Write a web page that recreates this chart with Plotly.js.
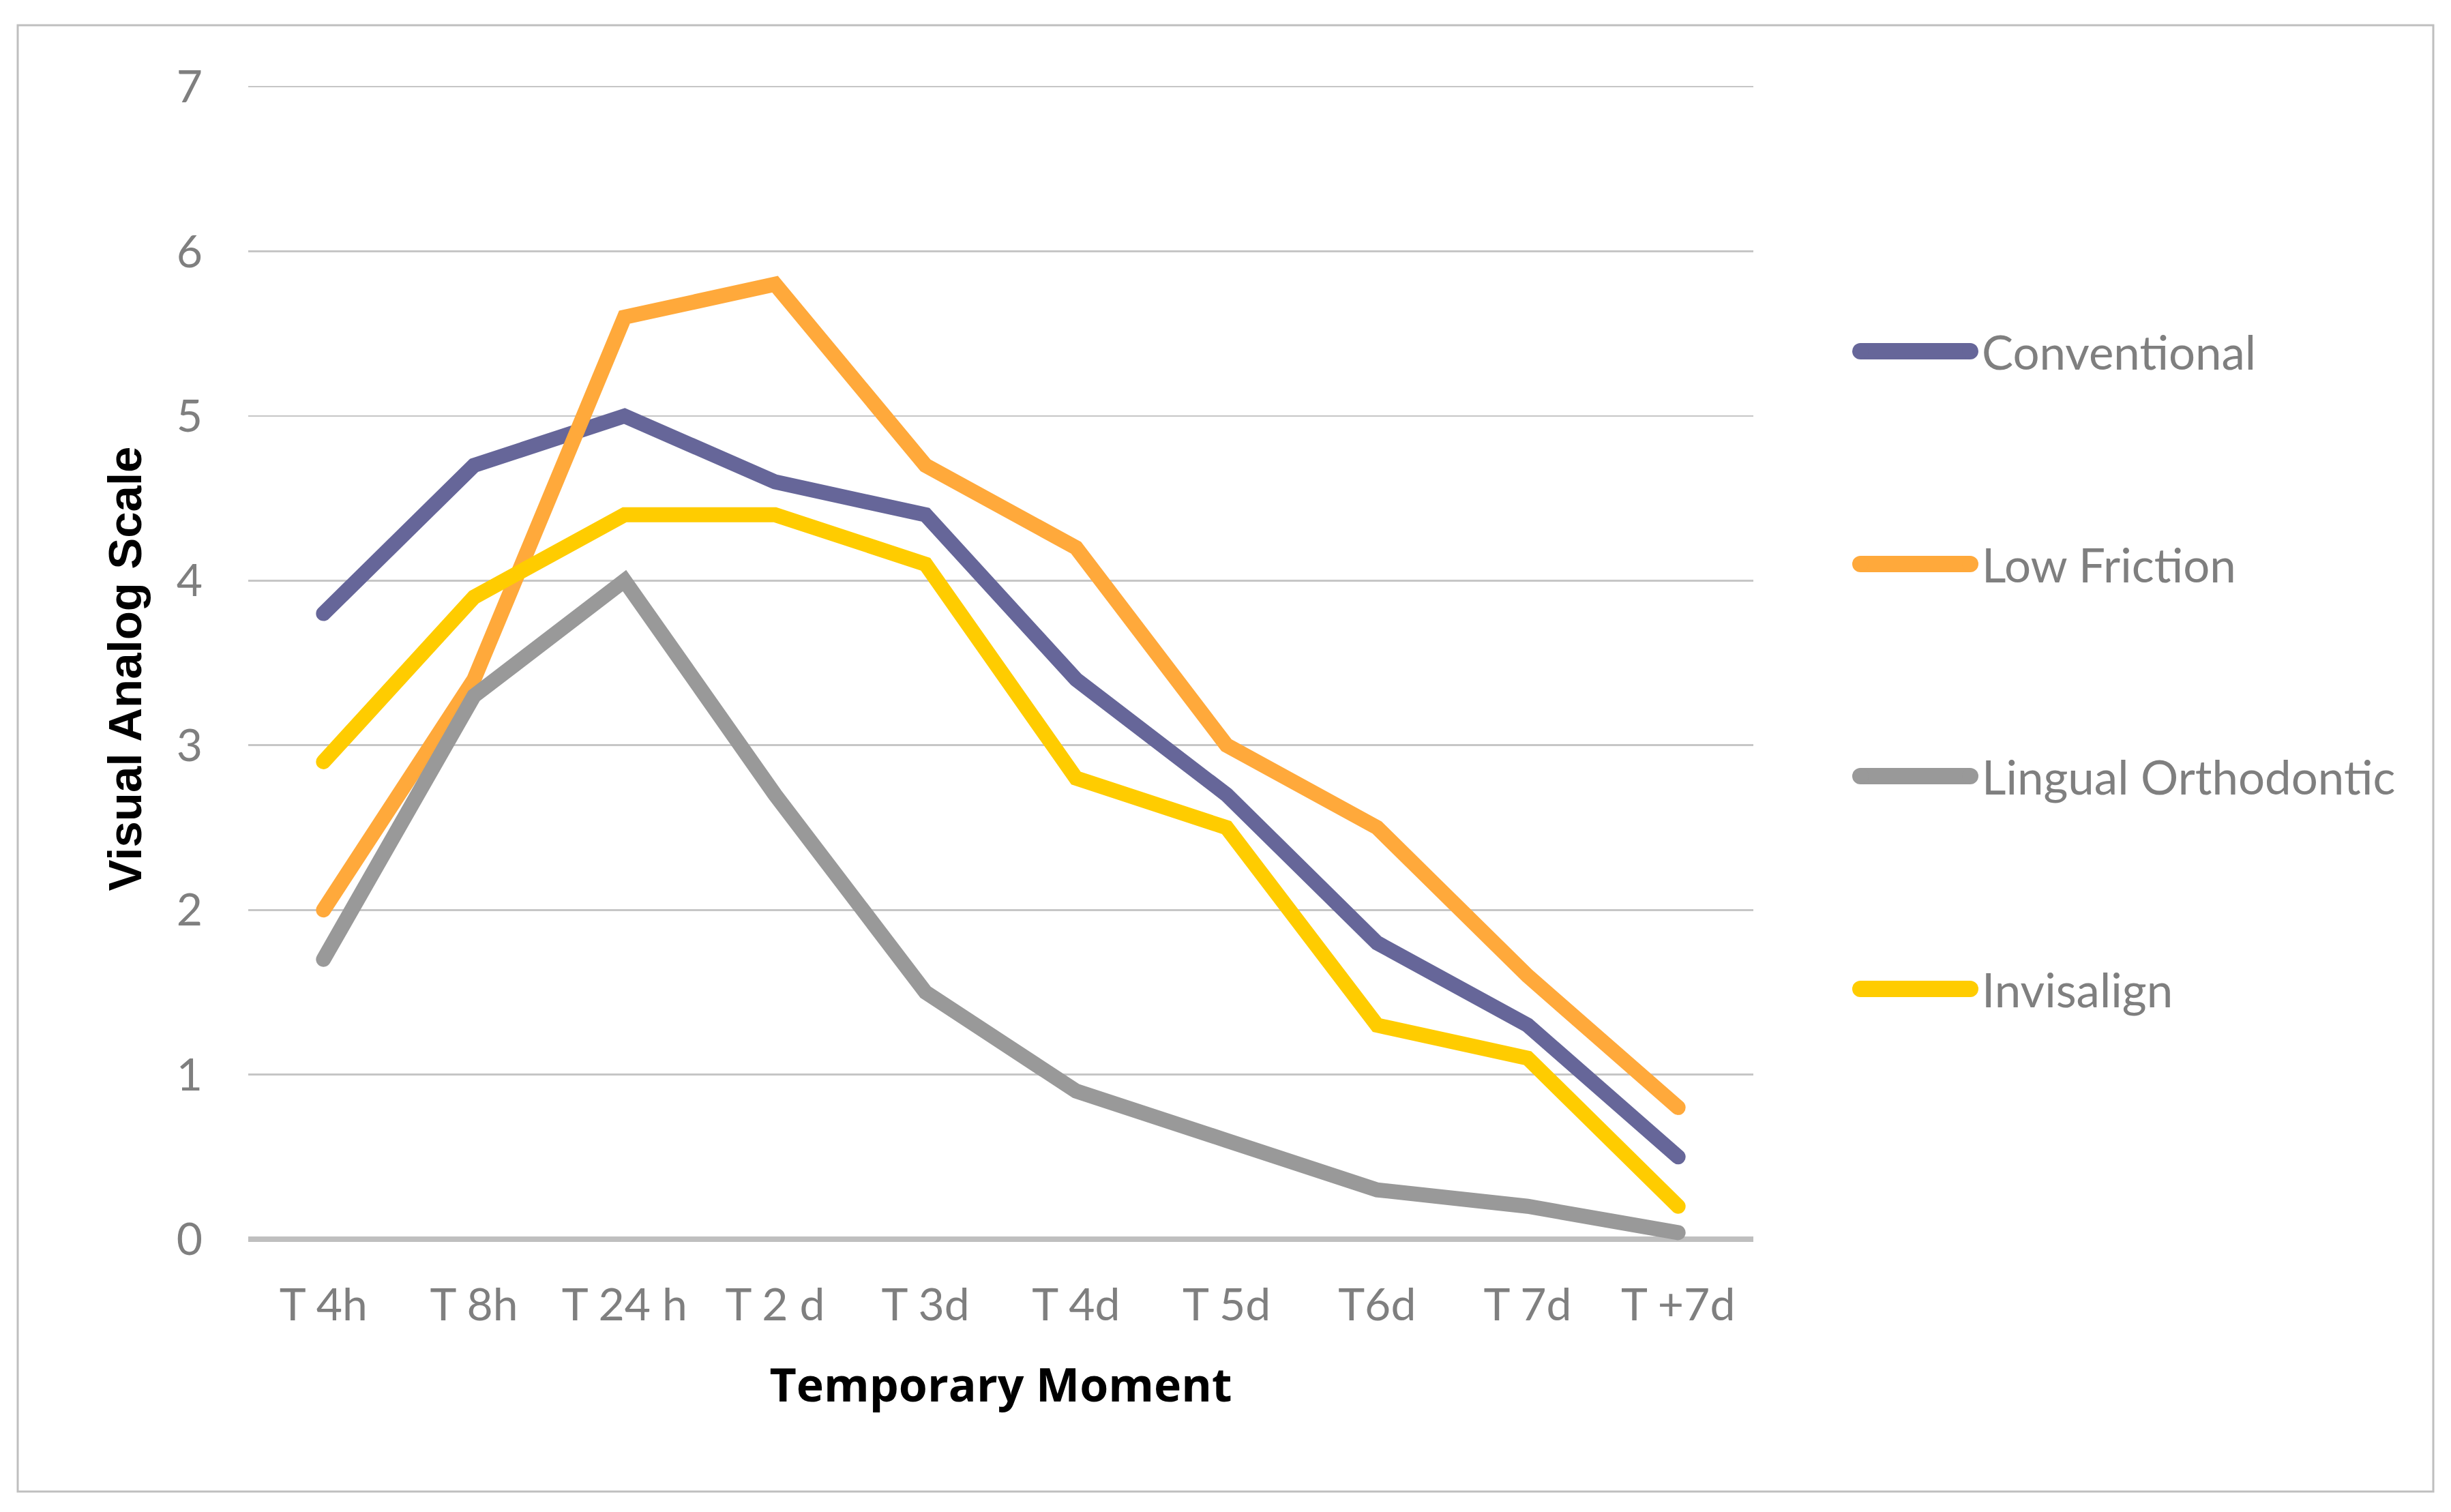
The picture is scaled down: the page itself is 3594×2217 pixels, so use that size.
<!DOCTYPE html>
<html><head><meta charset="utf-8">
<script src="https://cdn.plot.ly/plotly-3.0.1.min.js"></script>
<style>
html,body{margin:0;padding:0;background:#fff;overflow:hidden;}
#chart{width:3594px;height:2217px;}
.scatterlayer .js-line{stroke-linecap:round;}
</style></head><body><div id="chart"></div>
<script>
// ---- data ----
const categories = ["T 4h","T 8h","T 24 h","T 2 d","T 3d","T 4d","T 5d","T6d","T 7d","T +7d"];
const conventional = [3.8,4.7,5.0,4.6,4.4,3.4,2.7,1.8,1.3,0.5];
const lowFriction  = [2.0,3.4,5.6,5.8,4.7,4.2,3.0,2.5,1.6,0.8];
const lingual      = [1.7,3.3,4.0,2.7,1.5,0.9,0.6,0.3,0.2,0.04];
const invisalign   = [2.9,3.9,4.4,4.4,4.1,2.8,2.5,1.3,1.1,0.2];
const seriesNames  = ["Conventional","Low Friction","Lingual Orthodontic","Invisalign"];
const seriesColors = ["#666699","#FFA93B","#999999","#FFCC00"];
const yTickVals    = [0,1,2,3,4,5,6,7];
const xTitle = "Temporary Moment";
const yTitle = "Visual Analog Scale";

// ---- geometry (pixels) ----
const W = 3594, H = 2217;
const L = 364, R = 2571, y7 = 127, y0 = 1817;
const unit = (y0 - y7) / 7;
const yMin = -0.12, yMax = 7.05;
const plotTop = y0 - yMax * unit, plotBottom = y0 - yMin * unit;
const px2x = px => (px - L) / (R - L);
const px2y = py => (plotBottom - py) / (plotBottom - plotTop);

const allSeries = [conventional, lowFriction, lingual, invisalign];
const traces = allSeries.map((vals, i) => ({
  type: "scatter", mode: "lines", x: categories, y: vals, name: seriesNames[i],
  line: {color: seriesColors[i], width: 22}, showlegend: false, hoverinfo: "skip"
}));

const legendY = [515, 827, 1138, 1450];
const shapes = [{
  type: "rect", xref: "paper", yref: "paper", layer: "below",
  x0: px2x(26), x1: px2x(3568), y0: px2y(2187), y1: px2y(37),
  line: {color: "#bfbfbf", width: 3}, fillcolor: "rgba(0,0,0,0)"
}];
const annotations = [];
seriesNames.forEach((nm, i) => {
  const yy = px2y(legendY[i]);
  shapes.push({type: "line", xref: "paper", yref: "paper", x0: px2x(2728), x1: px2x(2889), y0: yy, y1: yy,
    line: {color: seriesColors[i], width: 24}});
  [2728, 2889].forEach(cx => shapes.push({type: "circle", xref: "paper", yref: "paper",
    xsizemode: "pixel", ysizemode: "pixel", xanchor: px2x(cx), yanchor: yy,
    x0: -12, x1: 12, y0: -12, y1: 12, fillcolor: seriesColors[i], line: {width: 0}}));
  annotations.push({xref: "paper", yref: "paper", x: px2x(2904), y: yy, xanchor: "left", yanchor: "middle",
    text: nm, showarrow: false, font: {family: "Lato", size: 69, color: "#7f7f7f"}});
});

const layout = {
  width: W, height: H,
  margin: {l: L, r: W - R, t: plotTop, b: H - plotBottom, pad: 0},
  paper_bgcolor: "#ffffff", plot_bgcolor: "#ffffff",
  showlegend: false,
  xaxis: {
    type: "category", range: [-0.5, 9.5], showgrid: false, showline: false, zeroline: false,
    ticks: "", ticklabelstandoff: 23, automargin: false,
    tickfont: {family: "Lato", size: 66, color: "#7f7f7f"},
    title: {text: xTitle, standoff: 58, font: {family: "Open Sans", weight: "bold", size: 68, color: "#000000"}}
  },
  yaxis: {
    range: [yMin, yMax], tickmode: "array", tickvals: yTickVals, ticktext: yTickVals.map(String),
    showgrid: true, gridcolor: "#c6c6c6", gridwidth: 2.7,
    zeroline: true, zerolinecolor: "#bfbfbf", zerolinewidth: 8.5,
    showline: false, ticks: "", ticklabelstandoff: 66, automargin: false,
    tickfont: {family: "Lato", size: 66, color: "#7f7f7f"},
    title: {text: yTitle, standoff: 28, font: {family: "Liberation Sans", weight: "bold", size: 69, color: "#000000"}}
  },
  shapes: shapes,
  annotations: annotations
};

Plotly.newPlot("chart", traces, layout, {staticPlot: true, displayModeBar: false});
</script></body></html>
